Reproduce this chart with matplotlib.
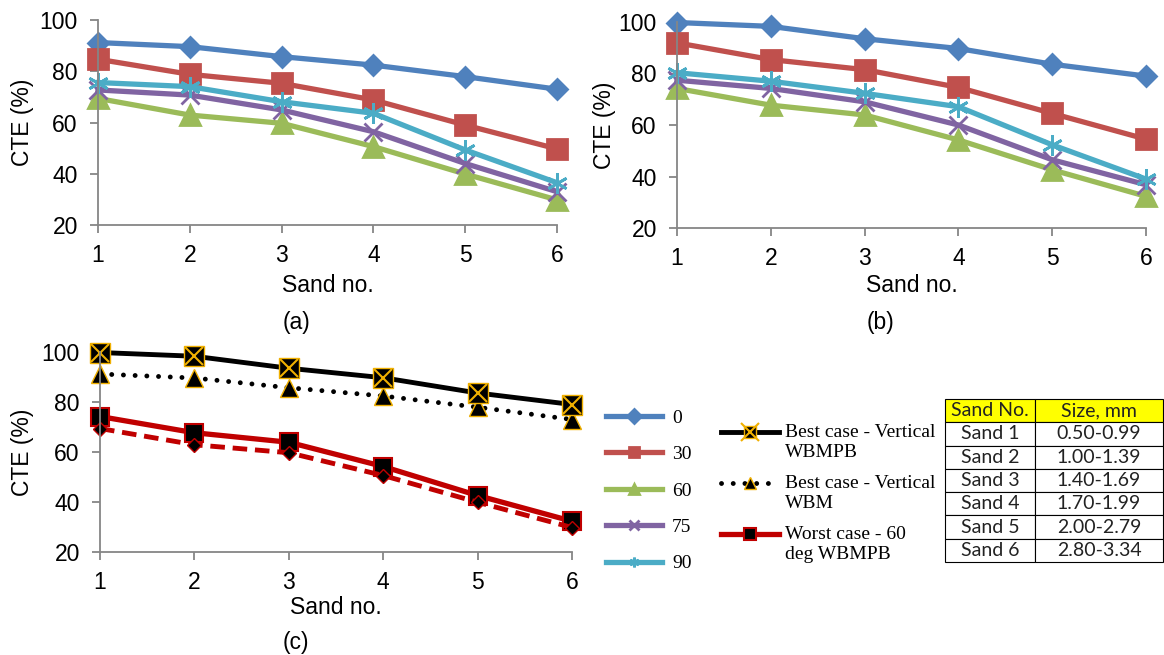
import matplotlib.pyplot as plt

# sand numbers and hole angles (deg)
sand = [1, 2, 3, 4, 5, 6]
angles = ["0", "30", "60", "75", "90"]

# (a) CTE (%) vs sand no. - WBM
cte_a_0 = [91.2, 89.6, 85.7, 82.4, 77.9, 73.0]
cte_a_30 = [84.7, 78.8, 75.3, 68.8, 59.0, 49.7]
cte_a_60 = [69.4, 62.9, 59.7, 50.6, 39.9, 29.8]
cte_a_75 = [72.7, 70.7, 64.9, 56.4, 44.0, 33.0]
cte_a_90 = [75.6, 74.0, 68.1, 63.6, 49.3, 36.5]

# (b) CTE (%) vs sand no. - WBMPB
cte_b_0 = [99.8, 98.3, 93.5, 89.7, 83.6, 79.0]
cte_b_30 = [91.9, 85.4, 81.5, 74.6, 64.5, 54.5]
cte_b_60 = [74.2, 67.7, 63.9, 54.2, 42.6, 32.3]
cte_b_75 = [77.4, 74.2, 69.0, 60.0, 46.5, 36.8]
cte_b_90 = [80.3, 77.0, 72.3, 67.1, 52.3, 39.0]

# (c) best / worst cases
best_wbmpb = cte_b_0
best_wbm = cte_a_0
worst_wbmpb = cte_b_60
worst_wbm = cte_a_60
case_labels = ["Best case - Vertical\nWBMPB", "Best case - Vertical\nWBM",
               "Worst case - 60\ndeg WBMPB"]

# sand size table
table_header = ["Sand No.", "Size, mm"]
table_sand = ["Sand 1", "Sand 2", "Sand 3", "Sand 4", "Sand 5", "Sand 6"]
table_size = ["0.50-0.99", "1.00-1.39", "1.40-1.69", "1.70-1.99", "2.00-2.79", "2.80-3.34"]

colors = ["#4F81BD", "#C0504D", "#9BBB59", "#8064A2", "#4BACC6"]
markers = [("D", 10), ("s", 14), ("^", 15), ("x", 13), ((6, 2, 0), 15)]

plt.rcParams['font.family'] = ['Liberation Sans', 'DejaVu Sans']
W, H = 1164, 655
fig = plt.figure(figsize=(W / 100, H / 100), dpi=100)
gray = "#868686"
fs = 16.5


def make_axes(l, r, t, b, ylab_x, xlab_y):
    ax = fig.add_axes([l / W, 1 - b / H, (r - l) / W, (b - t) / H])
    ax.set_xlim(1, 6)
    ax.set_ylim(20, 100)
    ax.set_xticks(sand)
    ax.set_yticks([20, 40, 60, 80, 100])
    for s in ["top", "right"]:
        ax.spines[s].set_visible(False)
    for s in ["left", "bottom"]:
        ax.spines[s].set_color(gray)
        ax.spines[s].set_linewidth(1.3)
    ax.tick_params(colors=gray, labelcolor="black", labelsize=fs, length=5.5, width=1.3)
    ax.tick_params(axis="y", pad=9)
    ax.tick_params(axis="x", pad=8)
    ax.set_ylabel("CTE (%)", fontsize=fs)
    ax.set_xlabel("Sand no.", fontsize=fs)
    ax.yaxis.set_label_coords((ylab_x - l) / (r - l), 0.5)
    ax.yaxis.label.set_va("center")
    ax.xaxis.set_label_coords(0.5, (b - xlab_y) / (b - t))
    ax.xaxis.label.set_va("center")
    return ax


def draw_angles(ax, series):
    lines = []
    for y, c, (m, ms) in zip(series, colors, markers):
        ln, = ax.plot(sand, y, color=c, lw=3.8, marker=m, ms=ms, mec=c, mfc=c,
                      mew=2, clip_on=False)
        lines.append(ln)
    return lines


ax_a = make_axes(98, 557, 20, 225, 22, 286)
lines_a = draw_angles(ax_a, [cte_a_0, cte_a_30, cte_a_60, cte_a_75, cte_a_90])

ax_b = make_axes(677, 1146, 22, 228, 605, 285)
draw_angles(ax_b, [cte_b_0, cte_b_30, cte_b_60, cte_b_75, cte_b_90])

ax_c = make_axes(100, 572, 352, 552, 22, 608)
gold = "#F0B000"
l_wbm, = ax_c.plot(sand, best_wbm, color="black", lw=3.5, linestyle=(0, (0.01, 2.4)),
                   dash_capstyle="round", marker="^", ms=13, mfc="black", mec=gold,
                   mew=1, clip_on=False)
l_best, = ax_c.plot(sand, best_wbmpb, color="black", lw=3.5, marker="s", ms=14.5,
                    mfc="black", mec=gold, mew=1, clip_on=False)
l_bestx, = ax_c.plot(sand, best_wbmpb, linestyle="none", marker="x", ms=13.5,
                     mec=gold, mew=1.5, clip_on=False)
l_worst, = ax_c.plot(sand, worst_wbmpb, color="#C00000", lw=3.8, marker="s", ms=13,
                     mfc="black", mec="#C00000", mew=1.5, clip_on=False)
ax_c.plot(sand, worst_wbm, color="#C00000", lw=3.5, linestyle=(0, (3, 1.6)),
          marker="D", ms=7, mfc="black", mec="#C00000", mew=1, clip_on=False)

fig.text(297 / W, 1 - 322 / H, "(a)", fontsize=fs, ha="center", va="center")
fig.text(881 / W, 1 - 322 / H, "(b)", fontsize=fs, ha="center", va="center")
fig.text(296 / W, 1 - 643 / H, "(c)", fontsize=fs, ha="center", va="center")

# legend of hole angles
leg1 = fig.legend(handles=lines_a, labels=angles, loc="upper left",
                  bbox_to_anchor=(606 / W, 1 - 409 / H), frameon=False,
                  prop={"family": "Liberation Serif", "size": 14},
                  handlelength=2.9, handletextpad=0.5, labelspacing=0.97,
                  borderpad=0, borderaxespad=0)
for h in leg1.legend_handles:
    h.set_markersize(7)

# legend of best / worst cases, handle next to the first text line
leg2 = fig.legend(handles=[(l_best, l_bestx), l_wbm, l_worst], labels=case_labels,
                  loc="upper left", bbox_to_anchor=(721 / W, 1 - 424 / H), frameon=False,
                  prop={"family": "Liberation Serif", "size": 14},
                  handlelength=3.0, handleheight=1.0, handletextpad=0.3,
                  labelspacing=0.75, borderpad=0, borderaxespad=0)
for col in leg2._legend_handle_box.get_children():
    for item in col.get_children():
        item.align = "top"
for h in leg2.legend_handles:
    if isinstance(h, tuple):
        for hh in h:
            hh.set_markersize(8)
    else:
        h.set_markersize(8)

# sand size table
ax_t = fig.add_axes([945 / W, 1 - 562 / H, 218 / W, 163 / H])
ax_t.axis("off")
tbl = ax_t.table(cellText=[[s, z] for s, z in zip(table_sand, table_size)],
                 colLabels=table_header, cellLoc="center", bbox=[0, 0, 1, 1],
                 colWidths=[90 / 218, 128 / 218])
tbl.auto_set_font_size(False)
tbl.set_fontsize(14)
for (r, c), cell in tbl.get_celld().items():
    cell.set_edgecolor("black")
    cell.set_linewidth(0.8)
    cell.get_text().set_fontfamily("Lato")
    cell.get_text().set_color("#222222")
    if r == 0:
        cell.set_facecolor("#FFFF00")

fig.savefig("out.png", dpi=100)
